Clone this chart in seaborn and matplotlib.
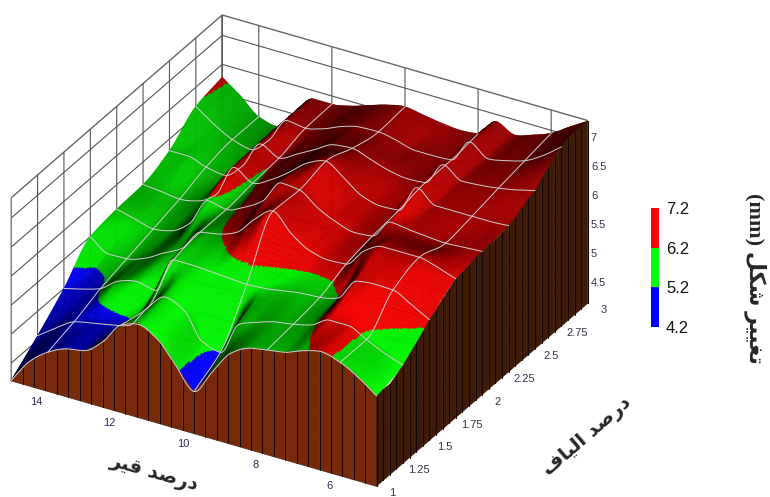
import matplotlib
matplotlib.use("Agg")
import matplotlib.pyplot as plt
from matplotlib.colors import ListedColormap
from mpl_toolkits.mplot3d import proj3d
import numpy as np
import seaborn as sns

# values
bitumen = [5, 5.5, 6, 6.5, 7, 7.5, 8, 8.5, 9, 9.5, 10, 10.5, 11, 11.5, 12, 12.5, 13, 13.5, 14, 14.5, 15]
fiber = [1, 1.25, 1.5, 1.75, 2, 2.25, 2.5, 2.75, 3]
z_row_100 = [5.75, 5.98, 6.15, 6.24, 6.17, 6.05, 6.00, 5.94, 5.76, 5.35, 4.92, 5.28, 5.64, 5.80, 5.70, 5.32, 5.08, 5.02, 4.87, 4.62, 4.20]
z_row_125 = [5.89, 6.00, 6.15, 6.30, 6.30, 6.13, 6.05, 6.00, 5.90, 5.77, 5.20, 5.30, 5.75, 5.88, 5.60, 5.21, 5.13, 5.07, 5.00, 4.80, 4.58]
z_row_150 = [6.28, 6.45, 6.61, 6.62, 6.58, 6.20, 6.12, 6.10, 6.05, 6.00, 5.98, 6.00, 6.02, 6.04, 6.04, 5.42, 5.48, 5.40, 5.18, 5.08, 5.00]
z_row_175 = [6.59, 6.70, 6.78, 6.78, 6.78, 6.62, 6.30, 6.28, 6.35, 6.55, 6.85, 6.62, 6.30, 6.18, 6.12, 5.75, 5.58, 5.40, 5.30, 5.29, 5.50]
z_row_200 = [6.67, 6.65, 6.63, 6.65, 6.68, 6.72, 6.39, 6.36, 6.45, 6.60, 6.82, 6.85, 6.45, 6.25, 6.12, 6.18, 5.70, 5.48, 5.42, 5.50, 5.58]
z_row_225 = [6.72, 6.70, 6.70, 6.70, 6.70, 6.92, 6.44, 6.42, 6.50, 6.72, 6.92, 6.80, 6.55, 6.33, 6.18, 6.36, 5.80, 5.60, 5.54, 5.58, 5.61]
z_row_250 = [6.93, 6.85, 6.79, 6.75, 6.73, 6.92, 6.52, 6.50, 6.55, 6.65, 6.75, 6.72, 6.55, 6.38, 6.22, 6.37, 5.90, 5.65, 5.70, 5.80, 5.80]
z_row_275 = [7.29, 7.05, 6.87, 6.78, 6.72, 6.92, 6.52, 6.50, 6.50, 6.58, 6.64, 6.63, 6.55, 6.42, 6.34, 6.38, 5.95, 5.70, 5.78, 5.95, 6.17]
z_row_300 = [7.34, 7.15, 6.95, 6.83, 6.74, 6.88, 6.58, 6.55, 6.58, 6.63, 6.68, 6.62, 6.52, 6.42, 6.36, 6.36, 6.05, 5.70, 5.78, 6.05, 6.28]

# tops of the two brown walls, 33 posts each
front_wall_z = [5.75, 5.90, 6.03, 6.13, 6.21, 6.24, 6.20, 6.12, 6.05, 6.01, 5.99, 5.95, 5.86, 5.73, 5.46, 5.17, 4.92,
                5.13, 5.37, 5.61, 5.74, 5.82, 5.76, 5.56, 5.32, 5.12, 5.06, 5.03, 4.95, 4.84, 4.70, 4.48, 4.20]
right_wall_z = [5.75, 5.77, 5.76, 5.82, 5.89, 5.98, 6.07, 6.17, 6.28, 6.35, 6.44, 6.52, 6.59, 6.61, 6.63, 6.67, 6.67,
                6.68, 6.68, 6.69, 6.72, 6.76, 6.82, 6.89, 6.93, 7.04, 7.13, 7.23, 7.29, 7.34, 7.35, 7.35, 7.34]

x_ticks = [6, 8, 10, 12, 14]
y_ticks = [1, 1.25, 1.5, 1.75, 2, 2.25, 2.5, 2.75, 3]
z_ticks = [4.5, 5, 5.5, 6, 6.5, 7]
band_edges = [4.2, 5.2, 6.2, 7.2]
band_colors = ["#0000ff", "#00ff00", "#ff0000"]

x_label = "\uFEAE\uFEF4\uFED7 \uFEAA\uFEBB\uFEAD\uFEA9"
y_label = "\uFED1\uFE8E\uFEF4\uFEDF\uFE8D \uFEAA\uFEBB\uFEAD\uFEA9"
z_label = "(mm) \uFEDE\uFEDC\uFEB7 \uFEAE\uFEF4\uFEF4\uFED0\uFE97"


def smooth_along(nodes, values, fine, axis):
    # monotone cubic between the read values, so the mesh is not blocky
    values = np.moveaxis(values, axis, 0)
    h = nodes[1] - nodes[0]
    d = np.diff(values, axis=0) / h
    m = np.zeros_like(values)
    prod = d[:-1] * d[1:]
    safe = np.where(prod > 0, d[:-1] + d[1:], 1)
    m[1:-1] = np.where(prod > 0, 2 * prod / safe, 0)
    m[0], m[-1] = d[0], d[-1]
    i = np.clip(np.searchsorted(nodes, fine, side="right") - 1, 0, len(nodes) - 2)
    t = (fine - nodes[i]) / h
    t = t.reshape((-1,) + (1,) * (values.ndim - 1))
    out = ((2 * t**3 - 3 * t**2 + 1) * values[i] + (t**3 - 2 * t**2 + t) * h * m[i]
           + (-2 * t**3 + 3 * t**2) * values[i + 1] + (t**3 - t**2) * h * m[i + 1])
    return np.moveaxis(out, 0, axis)


sns.set_style("white")
plt.rcParams["font.family"] = ["Liberation Sans", "DejaVu Sans"]

z_grid = np.array([z_row_100, z_row_125, z_row_150, z_row_175, z_row_200,
                   z_row_225, z_row_250, z_row_275, z_row_300])
palette = np.array(sns.color_palette(band_colors))
z_floor, z_top = 4.2, 7.35

fig = plt.figure(figsize=(7.7, 4.97), dpi=100)
ax = fig.add_axes([-60 / 770, -113 / 497, 700 / 770, 700 / 497], projection="3d", proj_type="ortho")
ax.computed_zorder = False
ax.view_init(elev=30, azim=-60)
ax.set_box_aspect((1, 1, 0.5), zoom=0.878)

# 16 mesh cells per x step, 40 per y step
fine_x = np.linspace(5, 15, 321)
fine_y = np.linspace(1, 3, 321)
z_fine = smooth_along(np.array(fiber), smooth_along(np.array(bitumen), z_grid, fine_x, 1), fine_y, 0)
xx, yy = np.meshgrid(fine_x, fine_y)

# headlight shading from the slope of the mesh, a bit dimmer towards the back
dz_dy, dz_dx = np.gradient(z_fine / (z_top - z_floor) * 0.5, fine_y / 2, (15 - fine_x) / 10)
nrm = np.sqrt(dz_dx**2 + dz_dy**2 + 1)
view = np.array([np.cos(np.pi / 6) * np.cos(-np.pi / 3), np.cos(np.pi / 6) * np.sin(-np.pi / 3), 0.5])
light = (-dz_dx * view[0] - dz_dy * view[1] + view[2]) / nrm
light = np.clip(0.05 + 1.25 * light, 0.15, 1) * (1 - 0.3 * (yy - 1) / 2)
band = np.clip(np.digitize(z_fine, band_edges[1:3]), 0, 2)
face = np.dstack([palette[band] * light[..., None], np.ones(z_fine.shape)])

ax.plot_surface(xx, yy, z_fine, facecolors=face, rstride=1, cstride=1, shade=False, linewidth=0.3, zorder=1)

# walls
front_x = np.linspace(5, 15, len(front_wall_z))
right_y = np.linspace(1, 3, len(right_wall_z))
ax.fill_between(front_x, np.ones(33), front_wall_z, front_x, np.ones(33), np.full(33, z_floor),
                mode="quad", shade=False, facecolor="#78290a", edgecolor="#78290a", linewidth=0.4, zorder=2)
ax.fill_between(np.full(33, 5.0), right_y, right_wall_z, np.full(33, 5.0), right_y, np.full(33, z_floor),
                mode="quad", shade=False, facecolor="#3f1a08", edgecolor="#3f1a08", linewidth=0.4, zorder=2)
for x, z in zip(front_x, front_wall_z):
    ax.plot([x, x], [1, 1], [z_floor, z], color="#1a0a02", lw=0.8, zorder=3)
for y, z in zip(right_y, right_wall_z):
    ax.plot([5, 5], [y, y], [z_floor, z], color="#140802", lw=0.8, zorder=3)

# wires on the surface
wire_c = "#cfcfcf"
for y in fiber[:-1]:
    row = int(round((y - 1) * 160))
    ax.plot(fine_x, np.full(321, y), z_fine[row], color=wire_c, lw=0.7, zorder=4)
for x in x_ticks:
    col = int(round((x - 5) * 32))
    ax.plot(np.full(321, x), fine_y, z_fine[:, col], color=wire_c, lw=0.7, zorder=4)

ax.set_xlim(15, 5, view_margin=0)
ax.set_ylim(1, 3, view_margin=0)
ax.set_zlim(z_floor, z_top, view_margin=0)
ax.set_xticks(x_ticks)
ax.set_yticks(y_ticks)
ax.set_zticks(z_ticks)
ax.set_xticklabels([])
ax.set_yticklabels([])
ax.set_zticklabels([])

for axis in (ax.xaxis, ax.yaxis, ax.zaxis):
    axis.set_pane_color((1, 1, 1, 1))
    axis.pane.set_edgecolor("#666666")
    axis.line.set_color((0, 0, 0, 0))
    axis._axinfo["grid"]["color"] = "#555555"
    axis._axinfo["grid"]["linewidth"] = 0.8
    axis._axinfo["tick"]["inward_factor"] = 0
    axis._axinfo["tick"]["outward_factor"] = 0


def label_at(x, y, z, s, color, ha="center"):
    # tick labels sit just off the base edges, placed through the 3d projection
    px, py, _ = proj3d.proj_transform(x, y, z, ax.get_proj())
    ax.text2D(px, py, s, transform=ax.transData, ha=ha, va="center", fontsize=8, color=color)


for v in x_ticks:
    label_at(v - 0.03, 0.885, z_floor, str(v), "#2f2a5a")
for v in y_ticks:
    label_at(4.51, v - 0.02, z_floor, f"{v:g}", "#33334d")
for v in z_ticks:
    label_at(5, 3.03, v, f"{v:g}", "#33334d", ha="left")

# legend strip
cax = fig.add_axes([651 / 770, 1 - 327 / 497, 8 / 770, 119 / 497])
sns.heatmap(np.array([[2], [1], [0]]), cmap=ListedColormap(band_colors), cbar=False, ax=cax,
            xticklabels=False, yticklabels=False)
cax.yaxis.tick_right()
cax.set_yticks([0, 1, 2, 3])
cax.set_yticklabels([f"{v:g}" for v in band_edges[::-1]], rotation=0, fontsize=12, color="#111111")
cax.tick_params(axis="y", length=0, pad=5)

# titles
fig.text(154 / 770, 1 - 473 / 497, x_label, rotation=-16, ha="center", va="center", rotation_mode="anchor",
         fontsize=14, fontweight="bold", family=["DejaVu Sans"])
fig.text(587 / 770, 1 - 437 / 497, y_label, rotation=41, ha="center", va="center", rotation_mode="anchor",
         fontsize=14, fontweight="bold", family=["DejaVu Sans"])
fig.text(755 / 770, 1 - 278 / 497, z_label, rotation=-90, ha="center", va="center", rotation_mode="anchor",
         fontsize=16, fontweight="bold", family=["Liberation Serif", "DejaVu Sans"])

fig.savefig("out.png", dpi=100)
